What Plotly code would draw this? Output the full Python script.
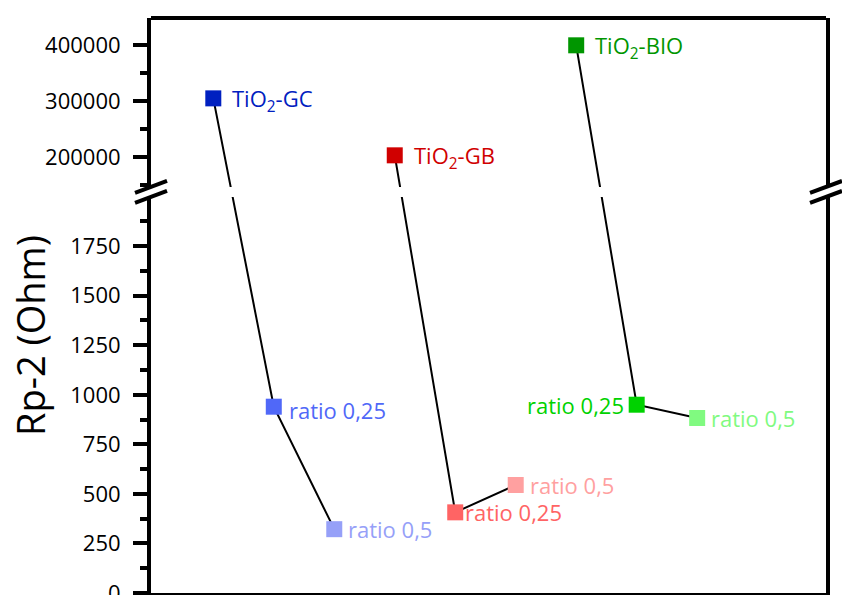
import plotly.graph_objects as go

# ---------------- data ----------------
samples = ["TiO<sub>2</sub>-GC", "TiO<sub>2</sub>-GB", "TiO<sub>2</sub>-BIO"]
ratio_labels = ["ratio 0,25", "ratio 0,5"]
x_base = [1, 4, 7]
x_r025 = [2, 5, 8]
x_r05 = [3, 6, 9]
rp_base = [305000, 203000, 400000]
rp_r025 = [940, 407, 950]
rp_r05 = [322, 545, 883]
colors_base = ["#0020C0", "#D00000", "#009600"]
colors_r025 = ["#5068F8", "#FF6464", "#00D200"]
colors_r05 = ["#96A0F8", "#FFA0A0", "#80FA80"]

# ---------------- layout constants ----------------
W, H = 842, 595
ML, MR, MT, MB = 151, 16, 18, 2
PW, PH = W - ML - MR, H - MT - MB
LOW_DOM = [0, 0.6887]
UP_DOM = [0.7061, 1]
LOW_RANGE = [0, 1998]
UP_RANGE = [146300, 448900]
X_RANGE = [-0.03, 11.13]
FONT = "Open Sans"
FS = 22


def to_paper(v, rng, dom):
    return dom[0] + (v - rng[0]) / (rng[1] - rng[0]) * (dom[1] - dom[0])


def from_paper(p, rng, dom):
    return rng[0] + (p - dom[0]) / (dom[1] - dom[0]) * (rng[1] - rng[0])


fig = go.Figure()

# connecting lines, drawn in both panels and clipped by each panel
for i in range(3):
    xs = [x_base[i], x_r025[i], x_r05[i]]
    papers = [
        to_paper(rp_base[i], UP_RANGE, UP_DOM),
        to_paper(rp_r025[i], LOW_RANGE, LOW_DOM),
        to_paper(rp_r05[i], LOW_RANGE, LOW_DOM),
    ]
    fig.add_trace(go.Scatter(
        x=xs, y=[from_paper(p, UP_RANGE, UP_DOM) for p in papers],
        mode="lines", line=dict(color="black", width=2), yaxis="y2",
        hoverinfo="skip", showlegend=False))
    fig.add_trace(go.Scatter(
        x=xs, y=[from_paper(p, LOW_RANGE, LOW_DOM) for p in papers],
        mode="lines", line=dict(color="black", width=2), yaxis="y",
        hoverinfo="skip", showlegend=False))

# markers
fig.add_trace(go.Scatter(
    x=x_base, y=rp_base, mode="markers", yaxis="y2",
    marker=dict(symbol="square", size=16, color=colors_base), showlegend=False))
fig.add_trace(go.Scatter(
    x=x_r025, y=rp_r025, mode="markers", yaxis="y",
    marker=dict(symbol="square", size=16, color=colors_r025), showlegend=False))
fig.add_trace(go.Scatter(
    x=x_r05, y=rp_r05, mode="markers", yaxis="y",
    marker=dict(symbol="square", size=16, color=colors_r05), showlegend=False))

annotations = []
for i in range(3):
    annotations.append(dict(
        x=x_base[i], y=rp_base[i], xref="x", yref="y2", text=samples[i],
        showarrow=False, xanchor="left", yanchor="middle", xshift=17, yshift=-2,
        font=dict(family=FONT, size=FS, color=colors_base[i])))
r025_shift = [13, 8, -11]
r025_anchor = ["left", "left", "right"]
r025_yshift = [-3, 0, 0]
for i in range(3):
    annotations.append(dict(
        x=x_r025[i], y=rp_r025[i], xref="x", yref="y", text=ratio_labels[0],
        showarrow=False, xanchor=r025_anchor[i], yanchor="middle",
        xshift=r025_shift[i], yshift=r025_yshift[i],
        font=dict(family=FONT, size=FS, color=colors_r025[i])))
for i in range(3):
    annotations.append(dict(
        x=x_r05[i], y=rp_r05[i], xref="x", yref="y", text=ratio_labels[1],
        showarrow=False, xanchor="left", yanchor="middle", xshift=12, yshift=0,
        font=dict(family=FONT, size=FS, color=colors_r05[i])))

# y-axis title
annotations.append(dict(
    x=(30 - ML) / PW, y=(H - MB - 336) / PH, xref="paper", yref="paper",
    text="Rp-2 (Ohm)", textangle=-90, showarrow=False,
    xanchor="center", yanchor="middle",
    font=dict(family=FONT, size=38, color="black")))

# frame top line and axis-break marks
shapes = [dict(type="line", xref="paper", yref="paper", x0=0, x1=1, y0=1, y1=1,
               line=dict(color="black", width=4))]
dx, dy = 16 / PW, 6 / PH
for side in (0, 1):
    for b in (UP_DOM[0], LOW_DOM[1]):
        shapes.append(dict(type="line", xref="paper", yref="paper",
                           x0=side - dx, x1=side + dx, y0=b - dy, y1=b + dy,
                           line=dict(color="black", width=4)))

yax_common = dict(
    showline=True, linewidth=4, linecolor="black", mirror=True,
    ticks="outside", ticklen=14, tickwidth=3.5, tickcolor="black",
    showgrid=False, zeroline=False, tickformat="d",
    tickfont=dict(family=FONT, size=FS, color="black"),
    ticklabelstandoff=8, automargin=False, ticklabeloverflow="allow",
)

fig.update_layout(
    width=W, height=H,
    margin=dict(l=ML, r=MR, t=MT, b=MB, autoexpand=False),
    paper_bgcolor="white", plot_bgcolor="white",
    showlegend=False,
    xaxis=dict(range=X_RANGE, showline=True, linewidth=4, linecolor="black",
               showticklabels=False, ticks="", showgrid=False, zeroline=False,
               anchor="y", automargin=False),
    yaxis=dict(domain=LOW_DOM, range=LOW_RANGE, dtick=250, tick0=0,
               minor=dict(ticks="outside", ticklen=7, tickwidth=3.5,
                          tickcolor="black", dtick=125, tick0=0),
               **yax_common),
    yaxis2=dict(domain=UP_DOM, range=UP_RANGE, dtick=100000, tick0=0,
                anchor="x",
                minor=dict(ticks="outside", ticklen=7, tickwidth=3.5,
                           tickcolor="black", dtick=50000, tick0=0),
                **yax_common),
    annotations=annotations,
    shapes=shapes,
)

fig.write_html(
    "out.html",
    config={"displayModeBar": False},
    post_script="document.body.style.margin='0';"
                "document.body.style.overflow='hidden';"
                "document.documentElement.style.overflow='hidden';",
)
